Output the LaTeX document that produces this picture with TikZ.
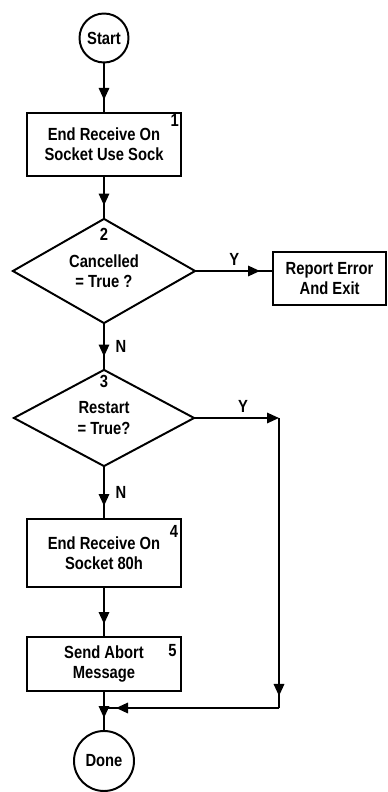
\documentclass[tikz,border=0pt]{standalone}
\usepackage{fontspec}
\newfontfamily\plotfont{Liberation Sans}[FakeStretch=0.84]
\usetikzlibrary{shapes.geometric, arrows.meta, decorations.markings}

\begin{document}
\begin{tikzpicture}[
	every node/.style={font=\plotfont\bfseries\fontsize{12.5}{14.5}\selectfont},
	box/.style={rectangle, draw, line width=1.4pt, minimum width=3.83cm, align=center, inner sep=0pt},
	term/.style={circle, draw, line width=1.4pt, inner sep=0pt},
	decision/.style={diamond, draw, line width=1.4pt, inner sep=0pt, align=center},
	flow/.style={line width=1.4pt, postaction={decorate, decoration={markings, mark=at position -0.3cm with {\arrow{Triangle[length=0.3cm, width=0.26cm]}}}}}
]
	\useasboundingbox (0, 0) rectangle (9.7, 19.8);
	
	\draw (2.6, 18.85) node (start) [term, minimum size=1.225cm] {Start};
	\draw (2.6, 16.19) node (b1) [box, minimum height=1.575cm] {End Receive On\\Socket Use Sock};
	\draw (2.6, 13.025) node (d2) [decision, minimum width=4.575cm, minimum height=2.625cm] {Cancelled\\= True ?};
	\draw (8.24, 12.84) node (rep) [box, minimum width=2.83cm, minimum height=1.33cm] {Report Error\\And Exit};
	\draw (2.6, 9.35) node (d3) [decision, minimum width=4.525cm, minimum height=2.425cm] {Restart\\= True?};
	\draw (2.6, 5.975) node (b4) [box, minimum height=1.7cm] {End Receive On\\Socket 80h};
	\draw (2.6, 3.2) node (b5) [box, minimum height=1.35cm] {Send Abort\\Message};
	\draw (2.6, 0.775) node (done) [term, minimum size=1.5cm] {Done};
	
	% step numbers
	\draw ([xshift=-0.06cm, yshift=-0.06cm]b1.north east) node [anchor=north east, inner sep=0pt] {1};
	\draw ([yshift=-0.42cm]d2.north) node {2};
	\draw ([yshift=-0.33cm]d3.north) node {3};
	\draw ([xshift=-0.08cm, yshift=-0.17cm]b4.north east) node [anchor=north east, inner sep=0pt] {4};
	\draw ([xshift=-0.12cm, yshift=-0.2cm]b5.north east) node [anchor=north east, inner sep=0pt] {5};
	
	\coordinate (yjoin) at (6.975, 2.1);
	\coordinate (ycorner) at (d3.east -| yjoin);
	\coordinate (jn) at (start |- yjoin);
	
	\draw [flow] (start) -- (b1);
	\draw [flow] (b1) -- (d2);
	\draw [flow] (d2.east) -- node [above] {Y} (d2.east -| rep.west);
	\draw [flow] (d2) -- node [right, xshift=0.15cm] {N} (d3);
	\draw [line width=1.4pt, -{Triangle[length=0.3cm, width=0.26cm]}] (d3.east) -- node [above, pos=0.57] {Y} (ycorner);
	\draw [flow] (d3) -- node [right, xshift=0.15cm] {N} (b4);
	\draw [flow] (b4) -- (b5);
	\draw [flow] (b5) -- (done);
	\draw [flow] (ycorner) -- (yjoin);
	\draw [flow] (yjoin) -- (jn);
	
\end{tikzpicture}
\end{document}
